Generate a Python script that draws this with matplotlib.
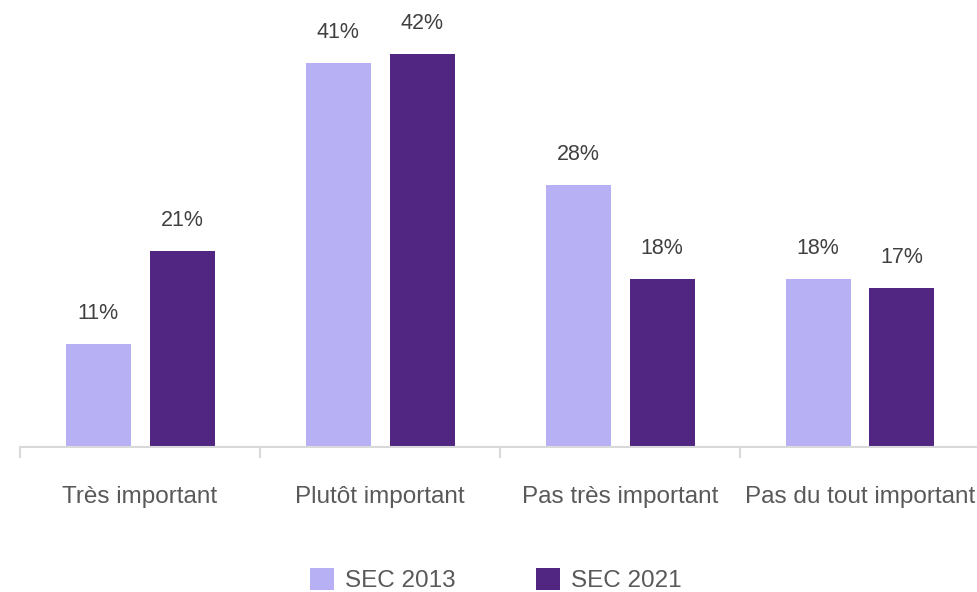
import numpy as np
import matplotlib
matplotlib.use('Agg')
import matplotlib.pyplot as plt
from matplotlib.patches import Patch

plt.rcParams['font.family'] = ['Liberation Sans', 'DejaVu Sans']

# --- données ---
categories = ['Très important', 'Plutôt important', 'Pas très important', 'Pas du tout important']
sec_2013 = [11, 41, 28, 18]
sec_2021 = [21, 42, 18, 17]
series_names = ['SEC 2013', 'SEC 2021']

color_2013 = '#B8B0F5'
color_2021 = '#512682'
axis_color = '#D9D9D9'

W, H, DPI = 977, 592, 100
fig = plt.figure(figsize=(W / DPI, H / DPI), dpi=DPI)
# axe : de x=20 à x=980 px, ligne de base à y=447 px depuis le haut
ax = fig.add_axes([20 / W, (H - 447) / H, 960 / W, 447 / H])

x = np.arange(len(categories))
bar_w = 65 / 240
offset = 42 / 240

bars_a = ax.bar(x - offset, sec_2013, width=bar_w, color=color_2013, zorder=2)
bars_b = ax.bar(x + offset, sec_2021, width=bar_w, color=color_2021, zorder=2)

# étiquettes de valeurs au-dessus des barres
for bars, vals in [(bars_a, sec_2013), (bars_b, sec_2021)]:
    for b, v in zip(bars, vals):
        ax.annotate(f'{v}%', (b.get_x() + b.get_width() / 2, v),
                    xytext=(0, 18), textcoords='offset points',
                    ha='center', va='baseline', fontsize=15.5, color='#404040')

ax.set_xlim(-0.5, len(categories) - 0.5)
ax.set_ylim(0, 447 / 9.357)

for s in ['top', 'right', 'left']:
    ax.spines[s].set_visible(False)
ax.spines['bottom'].set_color(axis_color)
ax.spines['bottom'].set_linewidth(1.5)
ax.set_yticks([])

ax.set_xticks(x)
ax.set_xticklabels(categories, fontsize=17.5, color='#595959')
ax.tick_params(axis='x', which='major', length=0, pad=28)
ax.set_xticks(np.arange(-0.5, len(categories)), minor=True)
ax.tick_params(axis='x', which='minor', length=8, width=1.5, color=axis_color)

handles = [Patch(facecolor=color_2013), Patch(facecolor=color_2021)]
fig.legend(handles, series_names, loc='center', bbox_to_anchor=(496 / W, 1 - 580 / H),
           ncol=2, frameon=False, fontsize=17.5, labelcolor='#595959',
           handlelength=1.0, handleheight=1.0, handletextpad=0.45,
           columnspacing=3.3, borderpad=0)

fig.savefig('out.png', dpi=DPI)
